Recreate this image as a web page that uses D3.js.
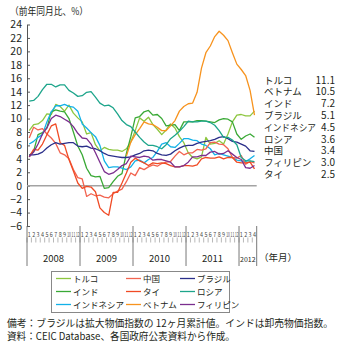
<!DOCTYPE html>
<html>
<head>
<meta charset="utf-8">
<script src="https://cdn.jsdelivr.net/npm/d3@7"></script>
<style>
  body { margin: 0; background: #fff; }
  svg { display: block; font-family: "Noto Sans CJK JP", "Noto Sans", sans-serif; }
</style>
</head>
<body>
<svg id="chart" width="340" height="346"></svg>
<script>
// 年・月ラベル
const years = ["2008", "2009", "2010", "2011", "2012"];
const monthsInYear = [12, 12, 12, 12, 4];

// 各国の消費者物価上昇率（前年同月比、%）2008年1月〜2012年4月
const turkey = [8.2, 9.1, 9.2, 9.7, 10.7, 10.6, 12.1, 11.8, 11.1, 12.0, 10.8, 10.1,
  9.5, 7.7, 7.9, 6.1, 5.2, 5.7, 5.4, 5.3, 5.3, 5.1, 5.5, 6.5,
  8.2, 10.1, 9.6, 10.2, 9.1, 8.4, 7.6, 8.3, 9.2, 8.6, 7.3, 6.4,
  4.9, 4.2, 4.0, 4.3, 7.2, 6.2, 6.3, 6.7, 6.2, 7.7, 9.5, 10.5,
  10.6, 10.4, 10.4, 11.1];
const china = [7.1, 8.7, 8.3, 8.5, 7.7, 7.1, 6.3, 4.9, 4.6, 4.0, 2.4, 1.2,
  1.0, -1.6, -1.2, -1.5, -1.4, -1.7, -1.8, -1.2, -0.8, -0.5, 0.6, 1.9,
  1.5, 2.7, 2.4, 2.8, 3.1, 2.9, 3.3, 3.5, 3.6, 4.4, 5.1, 4.6,
  4.9, 4.9, 5.4, 5.3, 5.5, 6.4, 6.5, 6.2, 6.1, 5.5, 4.2, 4.1,
  4.5, 3.2, 3.6, 3.4];
const brazil = [4.6, 4.6, 4.7, 5.0, 5.6, 6.1, 6.4, 6.2, 6.3, 6.4, 6.4, 5.9,
  5.8, 5.9, 5.6, 5.5, 5.2, 4.8, 4.5, 4.4, 4.3, 4.2, 4.2, 4.3,
  4.6, 4.8, 5.2, 5.3, 5.2, 4.8, 4.6, 4.5, 4.7, 5.2, 5.6, 5.9,
  6.0, 6.0, 6.3, 6.5, 6.6, 6.7, 6.9, 7.2, 7.3, 7.0, 6.6, 6.5,
  6.2, 5.9, 5.2, 5.1];
const india = [4.5, 5.1, 7.6, 7.9, 8.6, 11.0, 11.3, 11.1, 11.0, 10.0, 8.0, 5.9,
  4.6, 2.6, 1.5, 1.3, 1.4, -0.4, -0.3, 0.6, 1.4, 1.8, 4.8, 7.3,
  10.1, 10.3, 11.0, 11.2, 10.5, 10.6, 10.0, 8.9, 9.0, 9.1, 8.2, 9.5,
  9.5, 9.5, 9.7, 9.7, 9.6, 9.5, 9.4, 9.8, 10.0, 9.9, 9.5, 7.7,
  6.9, 7.4, 7.7, 7.2];
const thailand = [4.3, 5.4, 5.3, 6.2, 7.6, 8.9, 9.2, 6.4, 6.0, 3.9, 2.2, 0.4,
  -0.4, -0.1, -0.2, -0.9, -3.3, -4.0, -4.4, -1.0, -1.0, 0.4, 1.9, 3.5,
  4.1, 3.7, 3.4, 3.0, 3.4, 3.3, 3.4, 3.3, 3.0, 2.8, 2.8, 3.0,
  3.0, 2.9, 3.1, 4.0, 4.2, 4.1, 4.1, 4.3, 4.0, 4.2, 4.2, 3.5,
  3.4, 3.4, 3.5, 2.5];
const russia = [12.6, 12.7, 13.3, 14.3, 15.1, 15.1, 14.7, 15.0, 15.0, 14.2, 13.8, 13.3,
  13.4, 13.9, 14.0, 13.2, 12.3, 11.9, 12.0, 11.6, 10.7, 9.7, 9.1, 8.8,
  8.0, 7.2, 6.5, 6.0, 6.0, 5.8, 5.5, 6.1, 7.0, 7.5, 8.1, 8.8,
  9.6, 9.5, 9.5, 9.6, 9.6, 9.4, 9.0, 8.2, 7.2, 7.2, 6.8, 6.1,
  4.2, 3.7, 3.7, 3.6];
const indonesia = [6.2, 6.6, 7.2, 7.6, 9.5, 11.0, 11.9, 11.9, 12.1, 11.8, 11.7, 11.1,
  9.2, 8.6, 7.9, 7.3, 6.0, 3.7, 2.7, 2.8, 2.8, 2.6, 2.4, 2.8,
  3.7, 3.8, 3.4, 3.9, 4.2, 5.1, 6.2, 6.4, 5.8, 5.7, 6.3, 7.0,
  7.0, 6.8, 6.7, 6.2, 6.0, 5.5, 4.6, 4.8, 4.6, 4.4, 4.2, 3.8,
  3.7, 3.6, 4.0, 4.5];
const vietnam = [null, null, null, null, null, null, null, null, null, null, null, null,
  null, null, null, null, null, null, null, null, null, null, 4.4, 6.5,
  7.6, 8.5, 9.5, 9.2, 9.1, 8.7, 8.2, 8.2, 8.9, 9.7, 11.1, 11.8,
  12.2, 12.3, 13.9, 17.5, 19.8, 20.8, 22.2, 23.0, 22.4, 21.6, 19.8, 18.1,
  17.3, 16.4, 14.2, 10.5];
const philippines = [4.3, 5.0, 6.2, 7.7, 8.6, 10.0, 10.5, 10.3, 9.9, 9.5, 8.8, 7.8,
  7.1, 7.0, 6.2, 4.9, 3.5, 2.1, 1.7, 1.9, 2.4, 3.0, 3.3, 4.4,
  4.3, 4.2, 4.4, 4.3, 3.8, 3.9, 3.9, 3.7, 3.5, 2.8, 2.8, 3.0,
  3.5, 4.3, 4.3, 4.5, 4.5, 5.0, 5.1, 4.7, 4.8, 5.2, 4.7, 4.2,
  3.9, 2.7, 2.6, 3.0];

// 凡例の並び順（列ごと）
const series = [
  { name: "トルコ", values: turkey, color: "#8dc63f" },
  { name: "インド", values: india, color: "#39a935" },
  { name: "インドネシア", values: indonesia, color: "#12b1e8" },
  { name: "中国", values: china, color: "#f26450" },
  { name: "タイ", values: thailand, color: "#f04a24" },
  { name: "ベトナム", values: vietnam, color: "#f7931e" },
  { name: "ブラジル", values: brazil, color: "#2b2f8a" },
  { name: "ロシア", values: russia, color: "#1da58b" },
  { name: "フィリピン", values: philippines, color: "#7b2e8e" }
];

// 右側の最新値ラベル
const latestNames = ["トルコ", "ベトナム", "インド", "ブラジル", "インドネシア", "ロシア", "中国", "フィリピン", "タイ"];
const latestValues = ["11.1", "10.5", "7.2", "5.1", "4.5", "3.6", "3.4", "3.0", "2.5"];

const notes = [
  "備考：ブラジルは拡大物価指数の 12ヶ月累計値。インドは卸売物価指数。",
  "資料：CEIC Database、各国政府公表資料から作成。"
];

// 月の一覧
const months = [];
years.forEach((yr, yi) => {
  for (let m = 1; m <= monthsInYear[yi]; m++) months.push({ year: yr, month: m });
});

const svg = d3.select("#chart");
const plotLeft = 27, plotRight = 256.7, plotTop = 24.5, plotBottom = 226;

const x = d3.scaleBand().domain(d3.range(months.length)).range([plotLeft, plotRight]);
const y = d3.scaleLinear().domain([-6, 24]).range([plotBottom, plotTop]);

// 単位
svg.append("text")
  .attr("x", 10).attr("y", 15)
  .attr("font-size", 10).attr("fill", "#231f20")
  .attr("textLength", 78).attr("lengthAdjust", "spacingAndGlyphs")
  .text("（前年同月比、%）");

// y軸
const yAxis = svg.append("g")
  .attr("transform", `translate(${plotLeft},0)`)
  .call(d3.axisLeft(y).tickValues(d3.range(-6, 25, 2)).tickSize(-3).tickSizeOuter(0).tickPadding(5));
yAxis.select(".domain").attr("stroke", "#555");
yAxis.selectAll(".tick line").attr("stroke", "#555");
yAxis.selectAll(".tick text")
  .attr("font-size", 10.5).attr("fill", "#231f20")
  .attr("font-family", "'Noto Sans CJK JP', sans-serif");

// ゼロ線
svg.append("line")
  .attr("x1", plotLeft).attr("x2", plotRight)
  .attr("y1", y(0)).attr("y2", y(0))
  .attr("stroke", "#a3a3a3").attr("stroke-width", 1.5);

// 月ラベル（幅が狭いので詰めて描く）
const mg = svg.append("g");
mg.selectAll("text").data(months).join("text")
  .attr("x", (d, i) => x(i) + x.bandwidth() / 2)
  .attr("y", 236.5)
  .attr("text-anchor", "middle")
  .attr("font-size", 6)
  .attr("fill", "#444")
  .attr("textLength", d => d.month >= 10 ? 3.6 : 3.0)
  .attr("lengthAdjust", "spacingAndGlyphs")
  .text(d => d.month);
mg.selectAll("line").data(months).join("line")
  .attr("x1", (d, i) => x(i)).attr("x2", (d, i) => x(i))
  .attr("y1", 237.5).attr("y2", 242.5)
  .attr("stroke", "#888").attr("stroke-width", 0.6);

// 年の区切りと年ラベル
let start = 0;
const yearPos = years.map((yr, yi) => {
  const s = start;
  start += monthsInYear[yi];
  return { year: yr, x0: x(s), x1: x(start - 1) + x.bandwidth() };
});
svg.append("g").selectAll("line")
  .data([yearPos[0].x0, ...yearPos.map(d => d.x1)])
  .join("line")
  .attr("x1", d => d).attr("x2", d => d)
  .attr("y1", plotBottom).attr("y2", 266)
  .attr("stroke", "#555").attr("stroke-width", 0.8);
svg.append("g").selectAll("text").data(yearPos).join("text")
  .attr("x", d => (d.x0 + d.x1) / 2)
  .attr("y", 261.5)
  .attr("text-anchor", "middle")
  .attr("font-size", (d, i) => i === years.length - 1 ? 7 : 9.5)
  .attr("fill", "#231f20")
  .text(d => d.year);
svg.append("text")
  .attr("x", 259).attr("y", 261)
  .attr("font-size", 9.5).attr("fill", "#231f20")
  .text("（年月）");

// 折れ線
const line = d3.line()
  .defined(d => d != null)
  .x((d, i) => x(i) + x.bandwidth() / 2)
  .y(d => y(d));
svg.append("g").selectAll("path").data(series).join("path")
  .attr("d", d => line(d.values))
  .attr("fill", "none")
  .attr("stroke", d => d.color)
  .attr("stroke-width", 1.3)
  .attr("stroke-linejoin", "round");

// 最新値
const lg = svg.append("g").attr("fill", "#231f20");
latestNames.forEach((n, i) => {
  const ty = 83.5 + i * 11.8;
  lg.append("text").attr("x", 264).attr("y", ty)
    .attr("font-size", 9.5)
    .attr("textLength", n.length > 5 ? 52 : null)
    .attr("lengthAdjust", "spacingAndGlyphs")
    .text(n);
  lg.append("text").attr("x", 335).attr("y", ty)
    .attr("font-size", 10)
    .attr("text-anchor", "end").text(latestValues[i]);
});

// 凡例
svg.append("rect")
  .attr("x", 51.5).attr("y", 271.5).attr("width", 178).attr("height", 41)
  .attr("fill", "none").attr("stroke", "#888").attr("stroke-width", 1);
const colX = [54, 124, 178];
const leg = svg.append("g").selectAll("g").data(series).join("g")
  .attr("transform", (d, i) => `translate(${colX[Math.floor(i / 3)]},${278.5 + (i % 3) * 13})`);
leg.append("line")
  .attr("x1", 2).attr("x2", 17).attr("y1", 0).attr("y2", 0)
  .attr("stroke", d => d.color).attr("stroke-width", 1.3);
leg.append("text")
  .attr("x", 19).attr("y", 3)
  .attr("font-size", 8.5).attr("fill", "#231f20")
  .text(d => d.name);

// 注記
const noteWidths = [326, 228];
svg.append("g").selectAll("text").data(notes).join("text")
  .attr("x", 7).attr("y", (d, i) => 327 + i * 12.5)
  .attr("font-size", 9.8).attr("fill", "#231f20")
  .attr("textLength", (d, i) => noteWidths[i])
  .attr("lengthAdjust", "spacingAndGlyphs")
  .text(d => d);
</script>
</body>
</html>
